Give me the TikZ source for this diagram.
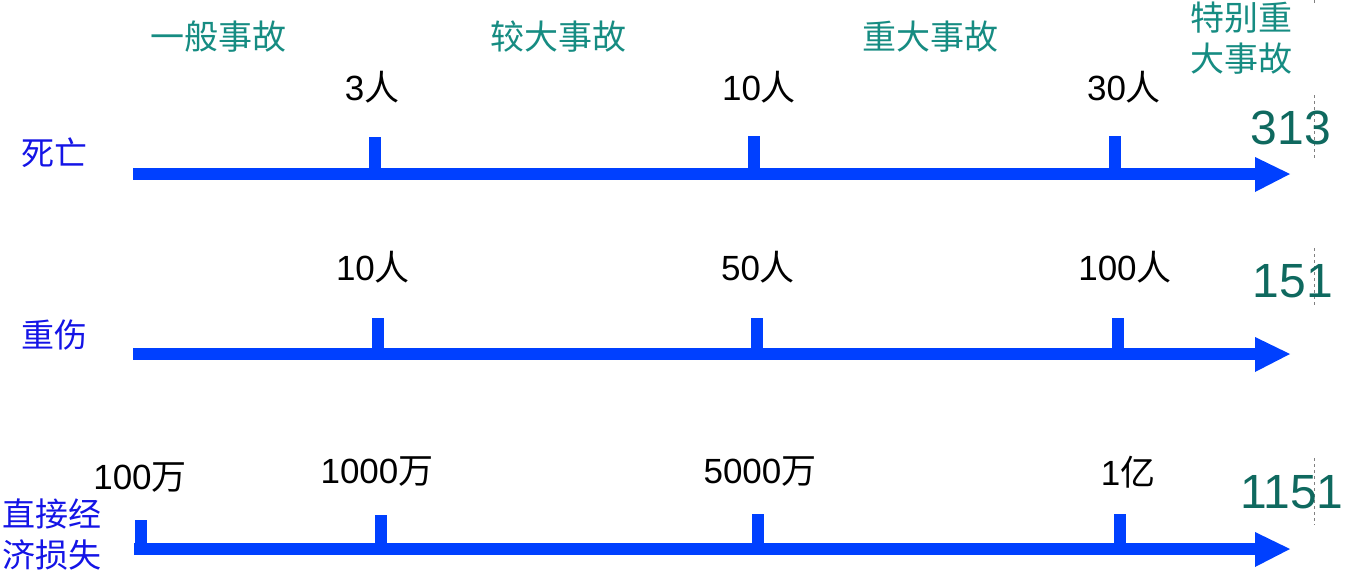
\documentclass[tikz,border=0pt]{standalone}
\usepackage{fontspec}
\setmainfont{Liberation Sans}
\newfontfamily\cjk{Noto Sans CJK SC}
\newcommand\zhtxt[1]{{\cjk #1}}
\definecolor{axisblue}{RGB}{0,64,255}
\definecolor{rowblue}{RGB}{20,20,230}
\definecolor{headteal}{RGB}{22,140,130}
\definecolor{numteal}{RGB}{15,105,95}
\tikzset{
  axisline/.style={line width=12pt, draw=axisblue},
  axishead/.style={fill=axisblue},
  tickbar/.style={fill=axisblue},
  head/.style={font=\fontsize{34}{40}\selectfont\cjk, text=headteal, inner sep=0pt},
  lab/.style={font=\fontsize{35}{40}\selectfont, text=black, inner sep=0pt},
  rowlab/.style={font=\fontsize{33}{40}\selectfont\cjk, text=rowblue, inner sep=0pt},
  bignum/.style={font=\fontsize{48}{50}\selectfont, text=numteal, inner sep=0pt},
  guide/.style={draw=gray, line width=0.8pt, dash pattern=on 3pt off 3pt},
}
\begin{document}
\begin{tikzpicture}[x=1pt,y=-1pt]
\useasboundingbox (0,0) rectangle (1345,584);

% headers
\node[head] (h1) at (218,37) {一般事故};
\node[head] (h2) at (558,37) {较大事故};
\node[head] (h3) at (930,37) {重大事故};
\node[head] (h4a) at (1241,18) {特别重};
\node[head] (h4b) at (1241,59) {大事故};

% row labels
\node[rowlab] (r1) at (54,153) {死亡};
\node[rowlab] (r2) at (54,335) {重伤};
\node[rowlab] (r3a) at (52,514) {直接经};
\node[rowlab] (r3b) at (52,555) {济损失};

% guide dashed lines
\coordinate (g0a) at (1314,0);   \coordinate (g0b) at (1314,5);
\coordinate (g1a) at (1314,95);  \coordinate (g1b) at (1314,158);
\coordinate (g2a) at (1314,248); \coordinate (g2b) at (1314,305);
\coordinate (g3a) at (1314,458); \coordinate (g3b) at (1314,525);
\draw[guide] (g0a) -- (g0b);
\draw[guide] (g1a) -- (g1b);
\draw[guide] (g2a) -- (g2b);
\draw[guide] (g3a) -- (g3b);

% big numbers
\node[bignum] (n1) at (1291,128) {313};
\node[bignum] (n2) at (1293,281) {151};
\node[bignum] (n3) at (1292,492) {1151};

% axis 1
\coordinate (a1s) at (133,174); \coordinate (a1e) at (1257,174);
\draw[axisline] (a1s) -- (a1e);
\fill[axishead] (1255,157) -- (1290,174) -- (1255,192) -- cycle;
\fill[tickbar] (369,137) rectangle (381,170);
\fill[tickbar] (748,136) rectangle (760,170);
\fill[tickbar] (1109,136) rectangle (1121,170);
\node[lab] (l11) at (372,87) {3\zhtxt{人}};
\node[lab] (l12) at (759,87) {10\zhtxt{人}};
\node[lab] (l13) at (1124,87) {30\zhtxt{人}};

% axis 2
\coordinate (a2s) at (133,354); \coordinate (a2e) at (1257,354);
\draw[axisline] (a2s) -- (a2e);
\fill[axishead] (1255,337) -- (1290,354) -- (1255,372) -- cycle;
\fill[tickbar] (372,318) rectangle (384,350);
\fill[tickbar] (751,318) rectangle (763,350);
\fill[tickbar] (1112,318) rectangle (1124,350);
\node[lab] (l21) at (373,267) {10\zhtxt{人}};
\node[lab] (l22) at (758,267) {50\zhtxt{人}};
\node[lab] (l23) at (1125,267) {100\zhtxt{人}};

% axis 3
\coordinate (a3s) at (134,549); \coordinate (a3e) at (1257,549);
\draw[axisline] (a3s) -- (a3e);
\fill[axishead] (1255,532) -- (1290,549) -- (1255,567) -- cycle;
\fill[tickbar] (135,520) rectangle (147,545);
\fill[tickbar] (375,515) rectangle (387,545);
\fill[tickbar] (752,514) rectangle (764,545);
\fill[tickbar] (1114,514) rectangle (1126,545);
\node[lab] (l30) at (140,478) {100\zhtxt{万}};
\node[lab] (l31) at (377,472) {1000\zhtxt{万}};
\node[lab] (l32) at (760,472) {5000\zhtxt{万}};
\node[lab] (l33) at (1128,472) {1\zhtxt{亿}};
\end{tikzpicture}
\end{document}
